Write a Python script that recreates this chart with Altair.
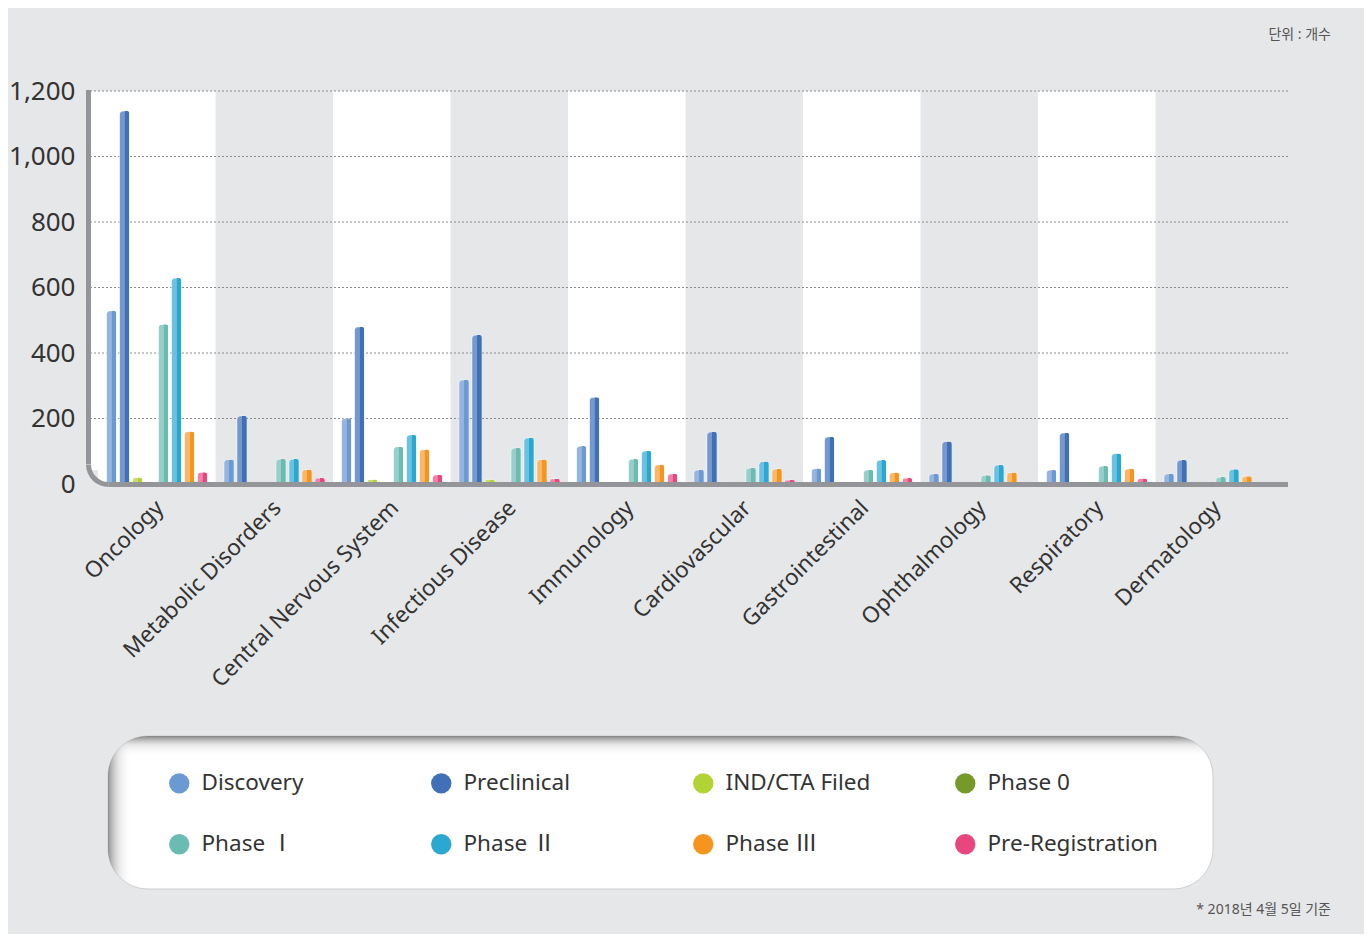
import math
import altair as alt
import pandas as pd

# ---------------- data ----------------
categories = ["Oncology", "Metabolic Disorders", "Central Nervous System",
              "Infectious Disease", "Immunology", "Cardiovascular",
              "Gastrointestinal", "Ophthalmology", "Respiratory", "Dermatology"]
series = ["Discovery", "Preclinical", "IND/CTA Filed", "Phase 0",
          "Phase Ⅰ", "Phase Ⅱ", "Phase Ⅲ", "Pre-Registration"]

discovery   = [529, 75, 201, 318, 116, 43, 47, 31, 43, 31]
preclinical = [1139, 208, 480, 455, 265, 159, 144, 130, 156, 73]
ind_cta     = [20, 0, 14, 14, 0, 6, 0, 0, 0, 0]
phase0      = [0, 0, 0, 0, 0, 0, 0, 0, 0, 0]
phase1      = [488, 76, 114, 110, 76, 49, 43, 27, 55, 21]
phase2      = [629, 76, 150, 141, 101, 69, 73, 58, 93, 45]
phase3      = [160, 44, 105, 75, 59, 46, 35, 35, 46, 24]
prereg      = [36, 18, 28, 16, 31, 12, 18, 0, 17, 0]

y_ticks = [0, 200, 400, 600, 800, 1000, 1200]
grid_values = [200, 400, 600, 800, 1000, 1200]

light_colors = ["#95b4df", "#7599ce", "#c9df6c", "#93b04a",
                "#97d0c9", "#68c2e0", "#f9b767", "#f081a7"]
dark_colors = ["#6b9ad2", "#3f70b8", "#b3d335", "#759a2a",
               "#6abcb3", "#2aa8d1", "#f7941e", "#e8467c"]

unit_text = "단위 : 개수"
note_text = "* 2018년 4월 5일 기준"

# ---------------- tables ----------------
values_by_series = [discovery, preclinical, ind_cta, phase0,
                    phase1, phase2, phase3, prereg]
rows = []
for s, vals in zip(series, values_by_series):
    for c, v in zip(categories, vals):
        rows.append({"category": c, "series": s, "value": v})
df = pd.DataFrame(rows)
bands = pd.DataFrame({"category": categories,
                      "shade": [i % 2 == 0 for i in range(len(categories))]})
grid = pd.DataFrame({"v": grid_values})
one = pd.DataFrame({"a": [0]})

W, H = 1198, 393
FONT = "Noto Sans, Noto Sans CJK KR, sans-serif"
AXIS_GRAY = "#939598"

# each series gets 5 narrow sub-slots; 2 spare slots at each end act as padding
slot_domain = (["_a", "_b"] + [f"{s}|{k}" for s in series for k in range(5)]
               + ["_c", "_d"])

x_scale = alt.Scale(domain=categories, paddingInner=0, paddingOuter=0.098, align=0.35)
y_scale = alt.Scale(domain=[0, 1200], nice=False, zero=True)
off_scale = alt.Scale(domain=slot_domain, paddingInner=0, paddingOuter=0.6)

x_axis = alt.Axis(domain=False, ticks=False, grid=False, labelAngle=-45,
                  labelAlign="right", labelBaseline="middle", labelPadding=20,
                  labelOffset=3, labelFontSize=22.5, labelColor="#333333",
                  labelFont=FONT, labelLimit=400, title=None)
y_axis = alt.Axis(domain=False, ticks=False, grid=False, values=y_ticks,
                  format=",d", labelFontSize=26, labelColor="#333333",
                  labelFont=FONT, labelPadding=15, title=None)

x_enc = alt.X("category:N", scale=x_scale, sort=categories, axis=x_axis)

# alternating white bands
band_layer = alt.Chart(bands).transform_filter("datum.shade").mark_rect(
    fill="white").encode(x=x_enc, y=alt.value(0), y2=alt.value(H))

first_band_fill = alt.Chart(one).mark_rect(fill="white").encode(
    x=alt.value(0), x2=alt.value(10), y=alt.value(0), y2=alt.value(H - 14))

grid_layer = alt.Chart(grid).mark_rule(
    color="#8c8c8c", strokeDash=[2, 2], strokeWidth=1).encode(
    y=alt.Y("v:Q", scale=y_scale, axis=y_axis),
    x=alt.value(0), x2=alt.value(W))

light_bars = alt.Chart(df).transform_filter("datum.value > 0").transform_calculate(
    slot="datum.series + '|2'").mark_bar(
    width=10, cornerRadiusTopLeft=4, cornerRadiusTopRight=4,
    stroke="white", strokeOpacity=0.5, strokeWidth=0.8).encode(
    x=x_enc,
    xOffset=alt.XOffset("slot:N", scale=off_scale),
    y=alt.Y("value:Q", scale=y_scale, axis=y_axis),
    color=alt.Color("series:N", scale=alt.Scale(domain=series, range=light_colors),
                    legend=None))

dark_bars = alt.Chart(df).transform_filter("datum.value > 0").transform_calculate(
    slot="datum.series + '|3'").mark_bar(
    width=4.8, cornerRadiusTopRight=4).encode(
    x=x_enc,
    xOffset=alt.XOffset("slot:N", scale=off_scale),
    y=alt.Y("value:Q", scale=y_scale, axis=y_axis),
    color=alt.Color("series:N", scale=alt.Scale(domain=series, range=dark_colors),
                    legend=alt.Legend(title=None, orient="none", legendX=78,
                                      legendY=681, columns=4, direction="horizontal")))

# axis lines with rounded corner
y_line = alt.Chart(one).mark_rule(color=AXIS_GRAY, strokeWidth=5).encode(
    x=alt.value(-1.5), y=alt.value(-1), y2=alt.value(H - 20))
x_line = alt.Chart(one).mark_rule(color=AXIS_GRAY, strokeWidth=5).encode(
    x=alt.value(18.5), x2=alt.value(W), y=alt.value(H + 0.5))
corner = alt.Chart(one).mark_arc(
    innerRadius=17.5, outerRadius=22.5, theta=math.pi, theta2=1.5 * math.pi,
    color=AXIS_GRAY).encode(x=alt.value(18.5), y=alt.value(H - 19.5))

# legend box
LX0, LX1, LY0, LY1 = 18, 1123, 645, 798
box = alt.Chart(one).mark_rect(fill="white", stroke="#cfcfcf", strokeWidth=1,
                               cornerRadius=40).encode(
    x=alt.value(LX0), x2=alt.value(LX1), y=alt.value(LY0), y2=alt.value(LY1))
top_shadow = alt.Chart(one).mark_rect(
    cornerRadius=40,
    fill=alt.Gradient(gradient="linear", x1=0, x2=0, y1=0, y2=1,
                      stops=[alt.GradientStop(color="rgba(120,120,120,0.9)", offset=0),
                             alt.GradientStop(color="rgba(190,190,190,0.35)", offset=0.06),
                             alt.GradientStop(color="rgba(255,255,255,0)", offset=0.14)])).encode(
    x=alt.value(LX0), x2=alt.value(LX1), y=alt.value(LY0), y2=alt.value(LY1))
left_shadow = alt.Chart(one).mark_rect(
    cornerRadius=40,
    fill=alt.Gradient(gradient="linear", x1=0, x2=1, y1=0, y2=0,
                      stops=[alt.GradientStop(color="rgba(120,120,120,0.8)", offset=0),
                             alt.GradientStop(color="rgba(190,190,190,0.35)", offset=0.01),
                             alt.GradientStop(color="rgba(255,255,255,0)", offset=0.022)])).encode(
    x=alt.value(LX0), x2=alt.value(LX1), y=alt.value(LY0), y2=alt.value(LY1))

unit_label = alt.Chart(one).mark_text(
    text=unit_text, align="right", baseline="middle", fontSize=14,
    color="#555555", font=FONT).encode(x=alt.value(1241), y=alt.value(-56))
note_label = alt.Chart(one).mark_text(
    text=note_text, align="right", baseline="middle", fontSize=14,
    color="#555555", font=FONT).encode(x=alt.value(1241), y=alt.value(819))

chart = alt.layer(
    band_layer, first_band_fill, grid_layer, light_bars, dark_bars,
    y_line, x_line, corner, box, top_shadow, left_shadow, unit_label, note_label
).resolve_scale(color="independent").properties(
    width=W, height=H,
    autosize=alt.AutoSizeParams(type="none"),
    padding={"left": 82, "top": 83, "right": 76, "bottom": 450},
    background="#e6e7e9",
).configure(font=FONT).configure_view(stroke=None).configure_legend(
    symbolType="circle", symbolSize=415, symbolStrokeWidth=0,
    labelFontSize=22.5, labelFont=FONT, labelColor="#333333",
    labelOffset=11, labelLimit=400, gridAlign="all",
    columnPadding=57, rowPadding=38, padding=0, zindex=1,
)

chart.save("out.html", embed_options={"renderer": "svg", "actions": False})
